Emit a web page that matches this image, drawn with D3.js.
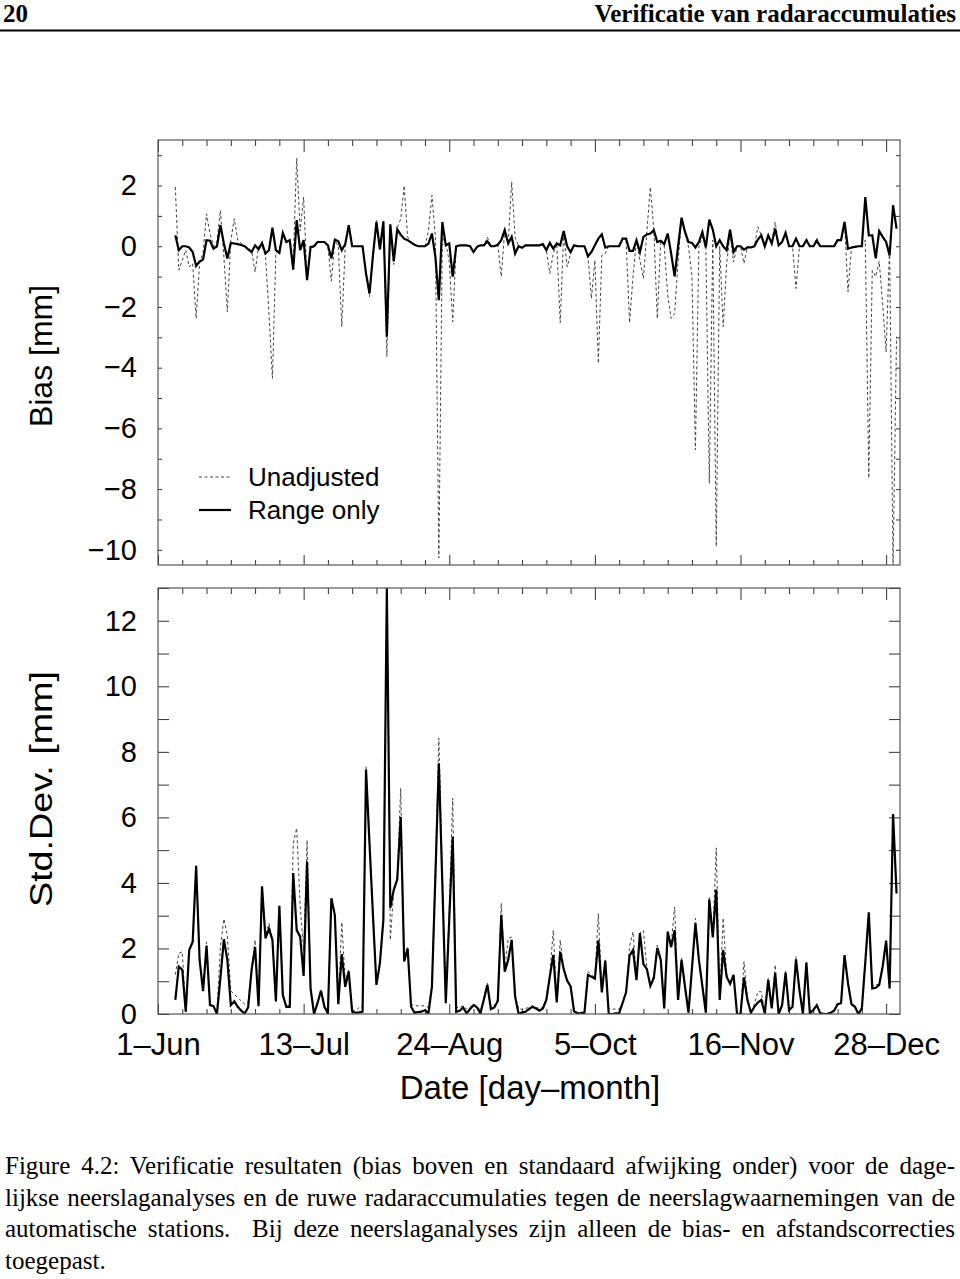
<!DOCTYPE html>
<html><head><meta charset="utf-8">
<script src="https://cdn.jsdelivr.net/npm/d3@7"></script>
<style>
body{margin:0;background:#fff;}
</style></head><body>
<svg id="chart" width="960" height="1279" style="position:absolute;left:0;top:0"></svg>
<script>
// day offsets counted from 1 June; first observation is day 5
const startDay = 5;
const tickDays = [0, 42, 84, 126, 168, 210];
const tickLabels = ["1\u2013Jun", "13\u2013Jul", "24\u2013Aug", "5\u2013Oct", "16\u2013Nov", "28\u2013Dec"];
const seriesNames = ["Unadjusted", "Range only"];
const captionLines = [
 "Figure 4.2: Verificatie resultaten (bias boven en standaard afwijking onder) voor de dage-",
 "lijkse neerslaganalyses en de ruwe radaraccumulaties tegen de neerslagwaarnemingen van de",
 "automatische stations.\u00a0 Bij deze neerslaganalyses zijn alleen de bias- en afstandscorrecties",
 "toegepast."
];

const biasRange = [
 0.36,-0.13,0,0,-0.04,-0.19,-0.65,-0.5,-0.44,0.2,
 0.18,-0.08,0,0.69,0.09,-0.4,0.11,0.09,0.07,0.04,
 0,-0.1,-0.19,0.03,-0.1,0.11,-0.24,-0.13,0.61,-0.13,
 -0.22,0.44,0.14,0.2,-0.77,0.86,-0.13,0.2,-1.12,-0.02,
 0,0.14,0.14,0.14,0.03,-0.4,0.22,0.16,-0.13,0.07,
 0.69,0,0,0,0,-0.9,-1.55,-0.3,0.8,-0.1,
 0.82,-2.98,0.72,-0.5,0.56,0.38,0.25,0.2,0.12,0.05,
 0,0,0,0.09,0.42,-0.35,-1.78,0.8,0.03,0.09,
 -1.0,0,0.03,0.03,0.03,0,-0.19,-0.02,0.03,0.03,
 0.16,0,0,0.05,0.2,0.53,0.09,0.31,-0.24,0,
 -0.05,0.03,0.03,0.03,0.03,0.03,0.07,-0.13,0.11,-0.08,
 0.09,0.03,0.5,0,-0.19,0.03,0,0,0,-0.33,
 -0.19,0.03,0.25,0.39,-0.04,0,0,0,0,0.25,
 0.25,-0.15,-0.15,0.2,-0.19,0.31,0.39,0.42,0.53,0.14,
 0.18,0.07,0.42,-0.24,-0.99,0,0.94,0.47,0.14,0.11,
 -0.04,0.14,0.47,-0.04,0.88,0.55,0,0.2,0,-0.13,
 0.55,-0.19,0,0,-0.11,-0.04,-0.04,0,0.22,0.36,
 0,0.36,0.09,0.58,0.03,0.14,0.44,0,0,0.25,
 0,0,0.2,0,0,0.18,0,0,0,0,
 0,0.2,0.2,0.8,-0.08,-0.04,-0.02,0,0,1.62,
 0.36,0.36,-0.4,0.5,0.31,0.14,-0.3,1.35,0.58
];
const biasUnadj = [
 1.95,-0.79,-0.46,-0.13,-0.68,-0.57,-2.38,-0.57,-0.2,1.07,
 0.42,0,0.15,1.18,-0.35,-2.16,0.2,0.91,0.2,0.1,
 0,-0.05,-0.15,-0.85,0,0,-0.3,-2.2,-4.35,-0.2,
 -0.1,0.44,0.14,0.2,-0.5,2.9,0.5,1.62,-1.15,-0.1,
 0,0.14,0.14,0.14,0,-1.15,0.2,0,-2.65,0,
 0.69,0,0,0,0,-0.9,-1.67,-0.3,0.85,-0.1,
 0.82,-3.64,0.7,-0.6,0.6,0.9,2.0,0.3,0.15,0.05,
 0,0,0,0.5,1.68,0.3,-10.27,0.3,0.1,-0.5,
 -2.49,0,0.03,0.03,0.03,0,-0.19,0,0.03,0.03,
 0.3,0,0,0.05,-1.0,0.53,0.1,2.12,0.3,0,
 -0.05,0.03,0.03,0.03,0.03,0.03,0.07,-0.13,-0.9,-0.24,
 0.09,-2.52,0.42,-0.68,-0.24,0,0,0,0,-0.33,
 -1.72,-0.46,-3.86,-0.3,-0.24,0,0,0,0,0.25,
 0.25,-2.52,-1.0,0.2,-0.46,-1.06,0.5,1.95,0.53,-2.38,
 0.2,0,-1.6,-2.38,-2.21,-0.5,0.94,0.4,0,-1.0,
 -6.71,0,0.3,0,-7.81,0.2,-9.89,0,-2.65,-0.57,
 0.4,-0.52,0,0,-0.57,0,-0.04,0,0.64,0.36,
 0,0.36,0.09,0.8,0.03,0.14,0.44,0,0,-1.39,
 0,0,0.25,0,0,0.28,0,0,0,0,
 0,0.2,0.2,0.8,-1.5,-0.04,-0.02,0,0,0.2,
 -7.64,-0.8,-1.0,-0.5,-1.9,-3.48,0,-10.55,-2.98
];
const sdRange = [
 0.43,1.45,1.35,0.07,1.95,2.2,4.52,1.65,0.7,2.08,
 0.27,0.24,0,1.1,2.28,1.65,0.27,0.39,0.22,0.1,
 0.02,0.2,1.35,2.04,0.24,3.9,2.31,2.6,2.26,0.38,
 3.3,0.58,0.22,0.22,4.3,2.56,2.36,1.16,4.65,0.78,
 0,0.33,0.71,0.22,0.02,3.53,3.02,0.3,1.83,0.83,
 1.3,0.07,0.04,0.05,0.07,7.45,5.2,3.0,0.89,1.55,
 2.87,13.0,3.24,3.79,4.1,6.02,1.6,2.0,0.22,0.04,
 0.06,0.07,0.12,0.02,0.83,4.2,7.65,4.0,0.33,2.9,
 5.41,0.07,0.1,0.2,0.02,0.15,0.27,0.2,0.02,0.45,
 0.89,0.15,0.2,0.4,3.02,1.29,1.65,2.26,0.53,0,
 0.05,0.07,0.15,0.22,0.17,0.1,0.17,0.43,1.14,1.8,
 0.35,1.9,1.37,1.02,0.84,0.08,0.02,0.02,0.04,1.19,
 1.14,1.08,2.25,0.66,1.62,0,0,0.02,0.03,0.34,
 0.66,1.78,1.95,1.03,2.47,1.52,1.37,0.86,1.1,2.02,
 1.65,0.17,2.51,2.04,2.56,0.43,1.65,0.83,0.04,1.4,
 2.77,1.65,0.85,0.04,3.5,2.34,3.8,0.43,1.95,1.14,
 0.92,1.19,0,0,1.12,0.43,0.04,0.22,0.35,0.43,
 0.02,1.04,0.17,1.24,0,0.27,1.26,0.12,0.22,1.67,
 0.73,0,1.57,0.02,0.12,0.27,0.02,0,0,0.04,
 0.1,0.3,0.33,1.8,0.94,0.3,0.22,0,0.17,1.6,
 3.1,0.78,0.8,0.89,1.45,2.24,0.78,6.1,3.68
];
const sdUnadj = [
 1.2,1.85,1.9,0.07,1.95,2.2,4.52,1.65,0.75,2.2,
 0.3,0.25,0.05,2.05,2.9,2.4,0.7,0.6,0.5,0.4,
 0.3,0.35,1.4,2.26,0.3,3.9,2.4,2.77,2.3,0.4,
 3.3,0.6,0.25,0.25,5.2,5.67,3.3,1.95,5.3,0.8,
 0.05,0.35,0.75,0.25,0.05,3.55,3.05,0.35,2.8,1.0,
 1.35,0.1,0.1,0.2,0.2,7.55,5.3,3.1,0.9,1.6,
 2.9,13.0,2.26,3.8,4.15,6.89,1.7,2.05,0.3,0.25,
 0.25,0.25,0.25,0.2,0.9,4.5,8.42,4.3,0.4,3.2,
 6.59,0.2,0.2,0.25,0.15,0.2,0.3,0.25,0.1,0.5,
 0.95,0.2,0.25,0.45,3.38,1.35,2.3,2.35,0.6,0.15,
 0.15,0.17,0.2,0.25,0.2,0.17,0.2,0.5,1.2,2.56,
 0.4,2.26,1.4,1.05,0.85,0.1,0.05,0.05,0.06,1.29,
 1.2,1.1,3.07,0.7,1.65,0.15,0.15,0.15,0.15,0.35,
 0.7,2.06,2.51,1.1,2.48,2.55,1.4,0.9,1.15,2.1,
 1.7,0.2,2.55,2.1,3.27,0.5,1.7,0.9,0.05,1.4,
 2.92,1.7,0.9,0.05,3.55,2.4,5.07,0.5,2.93,1.2,
 0.95,1.2,0.02,0.02,1.6,0.45,0.05,0.3,0.68,0.68,
 0.05,1.1,0.2,1.5,0.02,0.3,1.3,0.15,0.25,1.75,
 0.75,0.02,1.6,0.05,0.15,0.3,0.05,0.02,0.02,0.05,
 0.12,0.3,0.35,1.8,0.95,0.3,0.25,0.02,0.2,1.6,
 3.1,0.85,0.9,0.9,1.45,2.24,0.78,6.1,3.68
];
const biasTicks = [2, 0, -2, -4, -6, -8, -10];
const sdTicks = [0, 2, 4, 6, 8, 10, 12];

const svg = d3.select("#chart");
const sans = '"Liberation Sans", Arial, Helvetica, sans-serif';
const serif = '"Liberation Serif", "Times New Roman", serif';
const L = 158, R = 900;
const x = d3.scaleLinear().domain([0, 214]).range([L, R]);
const days = d3.range(startDay, startDay + biasRange.length);
const minorDays = d3.range(0, 215, 7);

// header
svg.append("text").attr("x", 3).attr("y", 22).attr("font-family", serif).attr("font-weight", "bold")
  .attr("font-size", 25).text("20");
svg.append("text").attr("x", 956).attr("y", 22).attr("text-anchor", "end").attr("font-family", serif)
  .attr("font-weight", "bold").attr("font-size", 25).text("Verificatie van radaraccumulaties");
svg.append("line").attr("x1", 0).attr("x2", 960).attr("y1", 30.5).attr("y2", 30.5)
  .attr("stroke", "#000").attr("stroke-width", 2);

function panel(top, bottom, domain, yMinorStep, yTickLen, labels, sU, sR, id) {
  const y = d3.scaleLinear().domain(domain).range([bottom, top]);
  const g = svg.append("g");
  g.append("clipPath").attr("id", id).append("rect").attr("x", L).attr("y", top)
    .attr("width", R - L).attr("height", bottom - top);
  const yMinor = d3.range(Math.ceil(domain[0]), Math.floor(domain[1]) + 1, yMinorStep);
  const xb = g.append("g").attr("transform", `translate(0,${bottom})`)
    .call(d3.axisTop(x).tickValues(minorDays).tickFormat("").tickSizeOuter(0).tickSizeInner(0));
  xb.selectAll(".tick line").attr("y2", d => (d % 42 === 0) ? -10 : -5);
  const xt = g.append("g").attr("transform", `translate(0,${top})`)
    .call(d3.axisBottom(x).tickValues(minorDays).tickFormat("").tickSizeOuter(0).tickSizeInner(0));
  xt.selectAll(".tick line").attr("y2", d => (d % 42 === 0) ? 12 : 6);
  const yl = g.append("g").attr("transform", `translate(${L},0)`)
    .call(d3.axisRight(y).tickValues(yMinor).tickFormat("").tickSizeOuter(0).tickSizeInner(yTickLen));
  const yr = g.append("g").attr("transform", `translate(${R},0)`)
    .call(d3.axisLeft(y).tickValues(yMinor).tickFormat("").tickSizeOuter(0).tickSizeInner(yTickLen));
  [xb, xt, yl, yr].forEach(a => { a.select(".domain").remove(); a.selectAll("line").attr("stroke", "#333"); });
  const lab = g.append("g").attr("transform", `translate(${L},0)`)
    .call(d3.axisLeft(y).tickValues(labels).tickSize(0).tickPadding(21)
      .tickFormat(d => d < 0 ? "\u2212" + Math.abs(d) : String(d)));
  lab.select(".domain").remove();
  lab.selectAll("text").attr("font-family", sans).attr("font-size", 29).attr("fill", "#000");
  const line = d3.line().x((d, i) => x(days[i])).y(d => y(d));
  const lg = g.append("g").attr("clip-path", `url(#${id})`);
  lg.append("path").datum(sU).attr("d", line).attr("fill", "none").attr("stroke", "#444")
    .attr("stroke-width", 1).attr("stroke-dasharray", "3,2.5");
  lg.append("path").datum(sR).attr("d", line).attr("fill", "none").attr("stroke", "#000")
    .attr("stroke-width", 2.2).attr("stroke-linejoin", "miter");
  g.append("rect").attr("x", L).attr("y", top).attr("width", R - L).attr("height", bottom - top)
    .attr("fill", "none").attr("stroke", "#555").attr("stroke-width", 1.2);
  return y;
}

panel(140, 565, [-10.5, 3.5], 1, 4, biasTicks, biasUnadj, biasRange, "clipBias");
panel(588, 1014, [0, 13], 1, 11, sdTicks, sdUnadj, sdRange, "clipSd");

const xl = svg.append("g").attr("transform", "translate(0,1014)")
  .call(d3.axisBottom(x).tickValues(tickDays).tickSize(0).tickFormat((d, i) => tickLabels[i]));
xl.select(".domain").remove();
xl.selectAll("text").attr("dy", null).attr("y", 41).attr("font-family", sans).attr("font-size", 31).attr("fill", "#000");

svg.append("text").attr("x", 530).attr("y", 1099).attr("text-anchor", "middle").attr("font-family", sans)
  .attr("font-size", 33).text("Date [day\u2013month]");
svg.append("text").attr("transform", "translate(52,356) rotate(-90)").attr("text-anchor", "middle")
  .attr("font-family", sans).attr("font-size", 32).text("Bias [mm]");
svg.append("text").attr("transform", "translate(52,789) rotate(-90)").attr("text-anchor", "middle")
  .attr("font-family", sans).attr("font-size", 32)
  .attr("textLength", 236).attr("lengthAdjust", "spacingAndGlyphs").text("Std.Dev. [mm]");

const leg = svg.append("g");
seriesNames.forEach((n, i) => {
  const yy = 477 + i * 33;
  leg.append("line").attr("x1", 199).attr("x2", 231).attr("y1", yy).attr("y2", yy)
    .attr("stroke", i === 0 ? "#444" : "#000").attr("stroke-width", i === 0 ? 1 : 2.2)
    .attr("stroke-dasharray", i === 0 ? "3,2.5" : null);
  leg.append("text").attr("x", 248).attr("y", yy + 9).attr("font-family", sans).attr("font-size", 26).text(n);
});

// caption: justified lines (word spacing computed from measured width)
const capW = 950;
captionLines.forEach((t, i) => {
  const el = svg.append("text").attr("x", 5).attr("y", 1174 + i * 31.5).attr("font-family", serif)
    .attr("font-size", 25).attr("fill", "#000").attr("xml:space", "preserve").text(t);
  if (i < captionLines.length - 1) {
    const w = el.node().getComputedTextLength();
    const gaps = (t.match(/[ \u00a0]/g) || []).length;
    if (gaps > 0) el.attr("word-spacing", (capW - w) / gaps);
    const w2 = el.node().getComputedTextLength();
    if (Math.abs(w2 - capW) > 1) el.attr("textLength", capW).attr("lengthAdjust", "spacing");
  }
});
</script>
</body></html>
